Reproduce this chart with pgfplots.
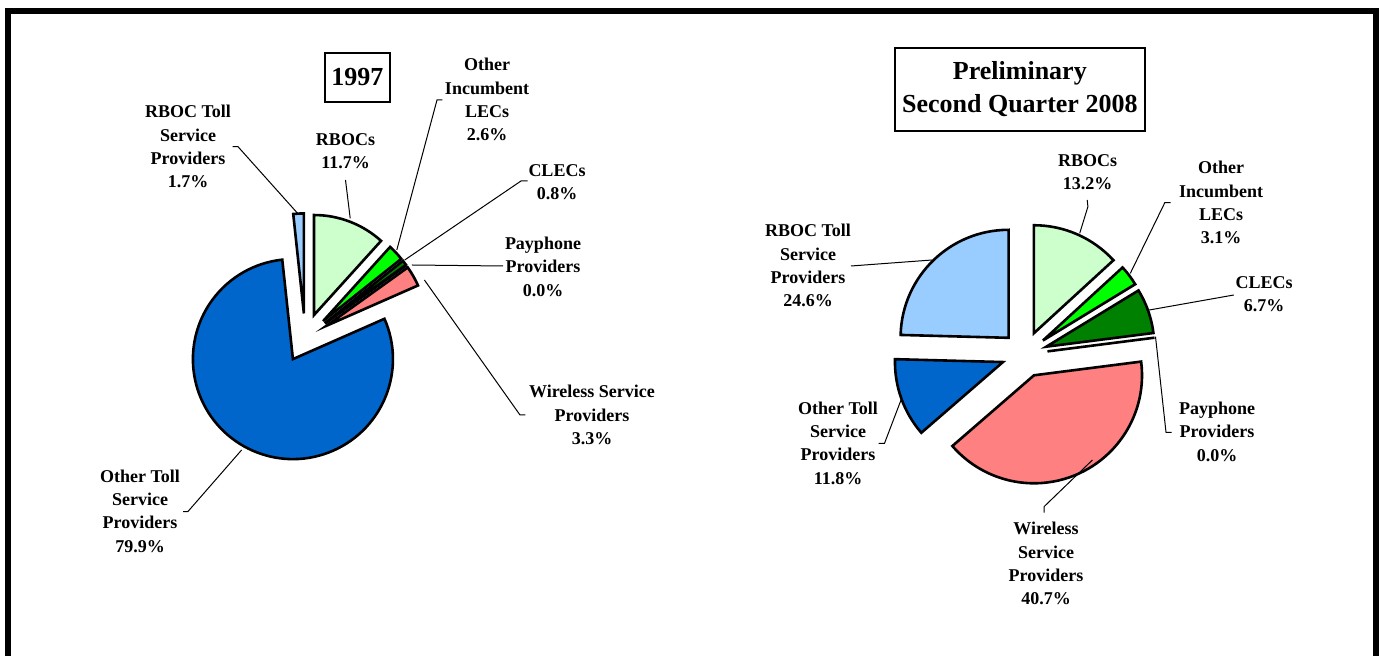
\documentclass[border=0pt]{standalone}
\usepackage{pgfplots}
\pgfplotsset{compat=1.18}
\usepackage{pgfplotstable}
\usepackage{fontspec}
\setmainfont{Liberation Serif}

\definecolor{cRBOC}{HTML}{CCFFCC}
\definecolor{cILEC}{HTML}{00FF00}
\definecolor{cCLEC}{HTML}{008000}
\definecolor{cPay}{HTML}{FFFF99}
\definecolor{cWire}{HTML}{FF8080}
\definecolor{cOTol}{HTML}{0066CC}
\definecolor{cRTol}{HTML}{99CCFF}

\tikzset{
  lab/.style={align=center, inner sep=0pt, font=\fontsize{9}{11.65}\selectfont\bfseries},
  lead/.style={draw=black, line width=0.5pt},
}

% 1997 shares (%), clockwise from 12 o'clock
\pgfplotstableread{
value color
11.7 cRBOC
2.6  cILEC
0.8  cCLEC
0.0  cPay
3.3  cWire
79.9 cOTol
1.7  cRTol
}\pieA

% Preliminary 2Q 2008 shares (%)
\pgfplotstableread{
value color
13.2 cRBOC
3.1  cILEC
6.7  cCLEC
0.0  cPay
40.7 cWire
11.8 cOTol
24.6 cRTol
}\pieB

% #1 table, #2 cx, #3 cy, #4 radius, #5 explode  (axis units = px)
\newcommand\drawpie[5]{%
  \pgfplotstablegetrowsof{#1}%
  \pgfmathtruncatemacro\nlast{\pgfplotsretval-1}%
  \gdef\pietot{0}%
  \foreach \i in {0,...,\nlast}{%
    \pgfplotstablegetelem{\i}{value}\of{#1}%
    \pgfmathsetmacro\tmp{\pietot+\pgfplotsretval}\xdef\pietot{\tmp}}%
  \gdef\piecum{0}%
  \pgfmathsetmacro\rr{#4*0.5}%
  \foreach \i in {0,...,\nlast}{%
    \pgfplotstablegetelem{\i}{value}\of{#1}\let\sval\pgfplotsretval
    \pgfplotstablegetelem{\i}{color}\of{#1}\let\scol\pgfplotsretval
    \pgfmathsetmacro\fa{\piecum/\pietot}%
    \pgfmathsetmacro\fb{(\piecum+\sval)/\pietot}%
    \pgfmathsetmacro\sa{90-360*\fa}%
    \pgfmathsetmacro\sb{90-360*\fb}%
    \pgfmathsetmacro\sm{(\sa+\sb)/2}%
    \pgfmathsetmacro\sx{#2+#5*cos(\sm)}%
    \pgfmathsetmacro\sy{#3-#5*sin(\sm)}%
    \filldraw[fill=\scol, draw=black, line width=1.3pt]
      (axis cs:\sx,\sy) -- ++(\sa:\rr pt) arc[start angle=\sa, end angle=\sb, radius=\rr pt] -- cycle;
    \pgfmathsetmacro\tmp{\piecum+\sval}\xdef\piecum{\tmp}%
  }%
}

\begin{document}
\begin{tikzpicture}
\begin{axis}[
  scale only axis, width=690pt, height=328pt,
  xmin=0, xmax=1380, ymin=0, ymax=656, y dir=reverse,
  hide axis, clip=false,
]
\pgfplotsextra{
  \drawpie{\pieA}{305.2}{337.9}{100}{24.5}
  \drawpie{\pieB}{1024.6}{354.3}{108}{23}
}
% frame
\draw[line width=3pt] (axis cs:8,670) -- (axis cs:8,11) -- (axis cs:1375.5,11) -- (axis cs:1375.5,670);
% titles
\node[draw, line width=1pt, minimum width=32.3pt, minimum height=24.5pt, inner sep=0pt,
      font=\fontsize{13}{16.5}\selectfont\bfseries] at (axis cs:357.3,77.2) {1997};
\node[draw, line width=1pt, minimum width=125pt, minimum height=41.5pt, inner sep=0pt, align=center,
      font=\fontsize{13}{16.5}\selectfont\bfseries] at (axis cs:1019.8,89.5) {Preliminary\\Second Quarter 2008};
% left labels
\node[lab] at (axis cs:188,146.7) {RBOC Toll\\Service\\Providers\\1.7\%};
\node[lab] at (axis cs:345.5,151) {RBOCs\\11.7\%};
\node[lab] at (axis cs:487,99.8) {Other\\Incumbent\\LECs\\2.6\%};
\node[lab] at (axis cs:557,182) {CLECs\\0.8\%};
\node[lab] at (axis cs:543,266.7) {Payphone\\Providers\\0.0\%};
\node[lab] at (axis cs:592,415) {Wireless Service\\Providers\\3.3\%};
\node[lab] at (axis cs:140,511.2) {Other Toll\\Service\\Providers\\79.9\%};
\path[lead] (axis cs:232.6,146.7) -- (axis cs:238,146.7) -- (axis cs:298.2,214);
\path[lead] (axis cs:345.5,180) -- (axis cs:350.2,218.3);
\path[lead] (axis cs:442.3,100) -- (axis cs:437,100) -- (axis cs:396.8,250);
\path[lead] (axis cs:527.6,181) -- (axis cs:521,181) -- (axis cs:404.7,260);
\path[lead] (axis cs:503,266) -- (axis cs:411.8,265);
\path[lead] (axis cs:525.4,415) -- (axis cs:520,415) -- (axis cs:424.4,280);
\path[lead] (axis cs:183,511.7) -- (axis cs:187.8,511.7) -- (axis cs:241.6,450);
% right labels
\node[lab] at (axis cs:1087.5,172) {RBOCs\\13.2\%};
\node[lab] at (axis cs:1221,202.7) {Other\\Incumbent\\LECs\\3.1\%};
\node[lab] at (axis cs:1264,294.5) {CLECs\\6.7\%};
\node[lab] at (axis cs:1217,431.7) {Payphone\\Providers\\0.0\%};
\node[lab] at (axis cs:1046,563.8) {Wireless\\Service\\Providers\\40.7\%};
\node[lab] at (axis cs:838,443) {Other Toll\\Service\\Providers\\11.8\%};
\node[lab] at (axis cs:808,265.7) {RBOC Toll\\Service\\Providers\\24.6\%};
\path[lead] (axis cs:1087.2,200) -- (axis cs:1087.9,206.7) -- (axis cs:1079.7,233.3);
\path[lead] (axis cs:1170.7,202.7) -- (axis cs:1164.8,202.7) -- (axis cs:1130.3,273.3);
\path[lead] (axis cs:1233.8,295) -- (axis cs:1149.3,310);
\path[lead] (axis cs:1171.7,432.3) -- (axis cs:1166,432.3) -- (axis cs:1155.5,336.7);
\path[lead] (axis cs:1044,512.7) -- (axis cs:1044,506.7) -- (axis cs:1092.4,460);
\path[lead] (axis cs:878.6,443.3) -- (axis cs:884.5,443.3) -- (axis cs:901,400);
\path[lead] (axis cs:851,266) -- (axis cs:932,260);
\end{axis}
\pgfresetboundingbox
\path[use as bounding box] (current axis.south west) rectangle (current axis.north east);
\end{tikzpicture}
\end{document}
